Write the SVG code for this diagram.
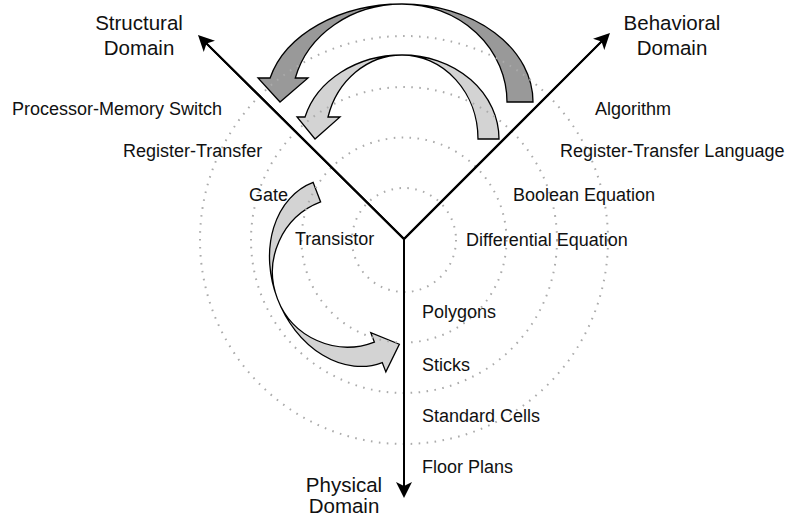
<svg xmlns="http://www.w3.org/2000/svg" width="795" height="517" viewBox="0 0 795 517">
  <defs>
    <style>
      .lbl { font-family: "Liberation Sans", Arial, Helvetica, sans-serif; font-size: 18px; fill: #111; }
      .dom { font-family: "Liberation Sans", Arial, Helvetica, sans-serif; font-size: 20.5px; fill: #111; text-anchor: middle; }
      .ring { fill: none; stroke: #ababab; stroke-width: 2; stroke-dasharray: 1.6 6.4; }
      .axis { fill: none; stroke: #000; stroke-width: 2; }
      .curv { stroke: #000; stroke-width: 1.3; stroke-linejoin: miter; }
    </style>
    <marker id="ah" viewBox="-8 -9 20 18" refX="0" refY="0" markerWidth="20" markerHeight="18" markerUnits="userSpaceOnUse" orient="auto">
      <path d="M10,0 L-6,-8 L-2,0 L-6,8 Z" fill="#000"/>
    </marker>
  </defs>
  <rect width="795" height="517" fill="#fff"/>

  <g id="arrow-outer">
    <path class="curv" fill="#999999" d="M533,102 A131,98 0 0 0 402,4 A136,98 0 0 0 270.1,78 L258,78 L280,102 L308,78 L295.3,78 A110,98 0 0 1 402,4 A105,98 0 0 1 507,102 Z"/>
  </g>
  <g id="arrow-inner">
    <path class="curv" fill="#d3d3d3" d="M499,139 A97,84 0 0 0 402,55 A100.5,84 0 0 0 305,117 L297,117 L315,139 L340,117 L328,117 A76.7,84 0 0 1 402,55 A76,84 0 0 1 478,139 Z"/>
  </g>
  <g id="arrow-lower">
    <path class="curv" fill="#d3d3d3" transform="translate(347.5,272) rotate(-111)" d="M96,0 A96,75 0 0 0 0,-75 A97,75 0 0 0 -97,0 L-107,0 L-86,22.5 L-65,0 L-75,0 A75,75 0 0 1 0,-75 A75,75 0 0 1 75,0 Z"/>
  </g>

  <g id="rings">
    <circle class="ring" cx="404" cy="240" r="52"/>
    <circle class="ring" cx="404" cy="240" r="102.5"/>
    <circle class="ring" cx="404" cy="240" r="153"/>
    <circle class="ring" cx="404" cy="240" r="204"/>
  </g>

  <g id="connectors">
    <path class="axis" d="M404,239 L205.1,42.1" marker-end="url(#ah)"/>
    <path class="axis" d="M404,239 L602.9,40.1" marker-end="url(#ah)"/>
    <path class="axis" d="M404,238 L404,488" marker-end="url(#ah)"/>
    <path class="axis" d="M205.1,42.1 L404,239 L602.9,40.1" stroke-linejoin="miter"/>
  </g>

  <g id="structural-domain"><text class="dom" x="139" y="29.5">Structural</text><text class="dom" x="139" y="55">Domain</text></g>
  <g id="behavioral-domain"><text class="dom" x="672" y="29.5">Behavioral</text><text class="dom" x="672" y="55">Domain</text></g>
  <g id="physical-domain"><text class="dom" x="344" y="491.5">Physical</text><text class="dom" x="344" y="513">Domain</text></g>

  <g id="processor-memory-switch"><text class="lbl" x="12" y="114.5">Processor-Memory Switch</text></g>
  <g id="register-transfer"><text class="lbl" x="123" y="157">Register-Transfer</text></g>
  <g id="gate"><text class="lbl" x="249" y="200.5">Gate</text></g>
  <g id="transistor"><text class="lbl" x="295" y="245">Transistor</text></g>

  <g id="algorithm"><text class="lbl" x="595" y="115">Algorithm</text></g>
  <g id="register-transfer-language"><text class="lbl" x="560" y="157">Register-Transfer Language</text></g>
  <g id="boolean-equation"><text class="lbl" x="513" y="200.5">Boolean Equation</text></g>
  <g id="differential-equation"><text class="lbl" x="466" y="245.5">Differential Equation</text></g>

  <g id="polygons"><text class="lbl" x="422" y="318">Polygons</text></g>
  <g id="sticks"><text class="lbl" x="422" y="371">Sticks</text></g>
  <g id="standard-cells"><text class="lbl" x="422" y="421.5">Standard Cells</text></g>
  <g id="floor-plans"><text class="lbl" x="422" y="472.5">Floor Plans</text></g>
</svg>
